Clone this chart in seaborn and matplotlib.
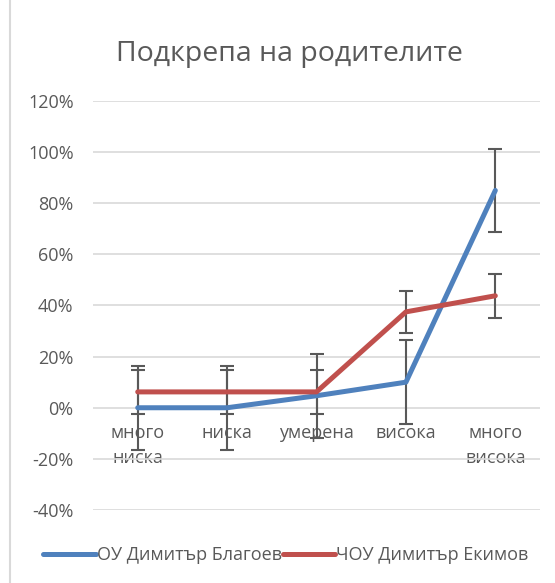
import pandas as pd
import seaborn as sns
import matplotlib.pyplot as plt
from matplotlib.lines import Line2D
from matplotlib.ticker import PercentFormatter

# Data
categories = ['много\nниска', 'ниска', 'умерена', 'висока', 'много\nвисока']
series_names = ['ОУ Димитър Благоев', 'ЧОУ Димитър Екимов']
blagoev = [0.0, 0.0, 4.7, 10.0, 85.0]
ekimov = [6.2, 6.2, 6.2, 37.5, 43.8]
blagoev_err = [16.4, 16.4, 16.4, 16.4, 16.4]
ekimov_err = [8.5, 8.5, 8.5, 8.3, 8.6]
colors = ['#4F81BD', '#C0504D']

df = pd.DataFrame({
    'pos': list(range(len(categories))) * 2,
    'value': blagoev + ekimov,
    'school': [series_names[0]] * len(categories) + [series_names[1]] * len(categories),
})

sns.set_theme(style='white')
plt.rcParams['font.family'] = ['Open Sans', 'DejaVu Sans']
plt.rcParams['axes.unicode_minus'] = False
grey = '#595959'
fs = 13

fig = plt.figure(figsize=(5.55, 5.83), dpi=100)
ax = fig.add_axes([0.1676, 0.1252, 0.8054, 0.7016])

# error bars under the lines
for vals, errs in [(blagoev, blagoev_err), (ekimov, ekimov_err)]:
    ax.errorbar(range(len(categories)), vals, yerr=errs, fmt='none',
                ecolor=grey, elinewidth=1.5, capsize=5, capthick=1.5, zorder=2)

sns.lineplot(data=df, x='pos', y='value', hue='school', palette=colors,
             linewidth=3.6, ax=ax, legend=False, zorder=3)

ax.set_ylim(-40, 120)
ax.set_xlim(-0.5, len(categories) - 0.5)
ax.set_yticks(range(-40, 121, 20))
ax.yaxis.set_major_formatter(PercentFormatter(decimals=0))
ax.grid(axis='y', color='#D9D9D9', linewidth=1.2, zorder=0)
ax.set_axisbelow(True)

ax.set_xticks(range(len(categories)))
ax.set_xticklabels(categories)
ax.spines['bottom'].set_position(('data', 0))
for s in ['top', 'right', 'left', 'bottom']:
    ax.spines[s].set_visible(False)
ax.tick_params(axis='x', length=0, pad=12, labelsize=fs, labelcolor=grey)
ax.tick_params(axis='y', length=0, pad=14, labelsize=fs, labelcolor=grey)
for lbl in ax.get_xticklabels():
    lbl.set_linespacing(1.45)
ax.set_xlabel('')
ax.set_ylabel('')

fig.text(0.522, 0.907, 'Подкрепа на родителите', ha='center', va='center',
         fontsize=20.5, color=grey)

handles = [Line2D([0], [0], color=c, linewidth=3.6) for c in colors]
fig.legend(handles, series_names, loc='center', bbox_to_anchor=(0.515, 0.048),
           ncol=2, frameon=False, fontsize=fs, labelcolor=grey,
           handlelength=2.9, handletextpad=0.05, columnspacing=0.05)

# chart frame left edge
fig.add_artist(Line2D([0.018, 0.018], [0, 1], color='#D9D9D9', linewidth=1.5,
                      transform=fig.transFigure))

fig.savefig('out.png', dpi=100)
